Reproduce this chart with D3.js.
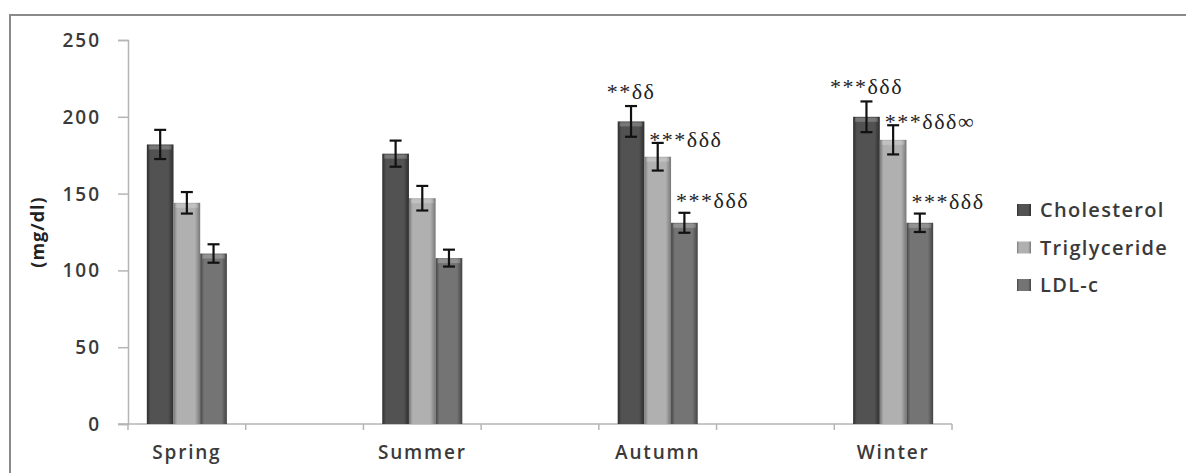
<!DOCTYPE html>
<html><head><meta charset="utf-8">
<script src="https://cdn.jsdelivr.net/npm/d3@7"></script>
<style>body{margin:0;background:#fff}svg{display:block}</style>
</head><body>
<svg id="c" width="1187" height="473"></svg>
<script>
// ---- data ----
const slots = ["Spring", "gap1", "Summer", "gap2", "Autumn", "gap3", "Winter"];
const categories = ["Spring", "Summer", "Autumn", "Winter"];
const series = ["Cholesterol", "Triglyceride", "LDL-c"];
const cholesterol = [182, 176, 197, 200];
const triglyceride = [144, 147, 174, 185];
const ldl = [111, 108, 131, 131];
const cholesterolErr = [9.5, 8.5, 10, 10];
const triglycerideErr = [7, 8, 9, 9.5];
const ldlErr = [6, 5.5, 6.5, 6];
const cholesterolMark = ["", "", "**δδ", "***δδδ"];
const triglycerideMark = ["", "", "***δδδ", "***δδδ∞"];
const ldlMark = ["", "", "***δδδ", "***δδδ"];
const yTicks = [0, 50, 100, 150, 200, 250];
const yTitle = "(mg/dl)";

const values = [cholesterol, triglyceride, ldl];
const errs = [cholesterolErr, triglycerideErr, ldlErr];
const marks = [cholesterolMark, triglycerideMark, ldlMark];
const colors = [
  {edge: "#2e2e2e", mid: "#525252"},
  {edge: "#777777", mid: "#b0b0b0"},
  {edge: "#434343", mid: "#747474"}
];

const svg = d3.select("#c");
const defs = svg.append("defs");
colors.forEach((c, i) => {
  const g = defs.append("linearGradient").attr("id", "g" + i).attr("x1", "0").attr("x2", "1").attr("y1", "0").attr("y2", "0");
  g.append("stop").attr("offset", "0%").attr("stop-color", c.edge);
  g.append("stop").attr("offset", "14%").attr("stop-color", c.mid);
  g.append("stop").attr("offset", "80%").attr("stop-color", c.mid);
  g.append("stop").attr("offset", "100%").attr("stop-color", c.edge);
});

// frame
svg.append("path").attr("d", "M10,480 L10,15 L1186,15")
  .attr("fill", "none").attr("stroke", "#8a8a8a").attr("stroke-width", 2);

const x = d3.scaleBand().domain(slots).range([128, 952]).padding(0);
const bw = x.bandwidth();
const x1 = d3.scaleBand().domain(series).range([bw * 0.16, bw * 0.84]).padding(0);
const y = d3.scaleLinear().domain([0, 250]).range([424, 40]);

const font = "'Open Sans', 'DejaVu Sans', sans-serif";
const txt = "#3a3a3a";

// y axis
const yAxis = svg.append("g").attr("transform", "translate(128,0)")
  .call(d3.axisLeft(y).tickValues(yTicks).tickSize(10).tickPadding(17));
yAxis.select(".domain").attr("stroke", "#b5b5b5").attr("stroke-width", 1.5);
yAxis.selectAll(".tick line").attr("stroke", "#b5b5b5").attr("stroke-width", 1.5);
yAxis.selectAll(".tick text").attr("font-family", font).attr("font-size", 19).attr("font-weight", 600)
  .attr("fill", txt).attr("letter-spacing", 2).attr("dy", "0.34em");

// x axis
const xAxis = svg.append("g").attr("transform", "translate(0,424)")
  .call(d3.axisBottom(x).tickSize(0).tickFormat(d => categories.includes(d) ? d : ""));
xAxis.select(".domain").attr("stroke", "#b5b5b5").attr("stroke-width", 1.5)
  .attr("d", "M118,0H952");
xAxis.selectAll(".tick text").attr("font-family", font).attr("font-size", 19).attr("font-weight", 600)
  .attr("fill", txt).attr("letter-spacing", 1.8).attr("dy", "0").attr("y", 35);
const boundaries = slots.map(s => x(s)).concat([952]);
svg.append("g").selectAll("line").data(boundaries).join("line")
  .attr("x1", d => d).attr("x2", d => d).attr("y1", 424).attr("y2", 430)
  .attr("stroke", "#b5b5b5").attr("stroke-width", 1.5);

// y title
svg.append("text").attr("transform", "translate(44,232) rotate(-90)")
  .attr("text-anchor", "middle").attr("font-family", font).attr("font-weight", "bold")
  .attr("font-size", 18).attr("letter-spacing", 1).attr("fill", "#222").text(yTitle);

// bars
const plot = svg.append("g");
series.forEach((s, si) => {
  categories.forEach((c, ci) => {
    const bx = x(c) + x1(s);
    const v = values[si][ci];
    const w = x1.bandwidth();
    plot.append("rect").attr("x", bx).attr("y", y(v)).attr("width", w).attr("height", y(0) - y(v))
      .attr("fill", `url(#g${si})`);
    plot.append("rect").attr("x", bx + 2).attr("y", y(v) + 1).attr("width", w - 4).attr("height", 4)
      .attr("fill", "#ffffff").attr("opacity", 0.22);
    // error bar
    const cx = bx + w / 2, e = errs[si][ci];
    const eb = plot.append("g").attr("stroke", "#111").attr("stroke-width", 2.2);
    eb.append("line").attr("x1", cx).attr("x2", cx).attr("y1", y(v + e)).attr("y2", y(v - e));
    eb.append("line").attr("x1", cx - 6).attr("x2", cx + 6).attr("y1", y(v + e)).attr("y2", y(v + e));
    eb.append("line").attr("x1", cx - 6).attr("x2", cx + 6).attr("y1", y(v - e)).attr("y2", y(v - e));
    // significance mark
    const m = marks[si][ci];
    if (m) {
      const t = plot.append("text").attr("font-family", "'Liberation Serif', 'DejaVu Serif', serif")
        .attr("font-size", 22).attr("letter-spacing", 1.5).attr("fill", "#222").text(m);
      if (si === 0) {
        t.attr("x", cx).attr("text-anchor", "middle").attr("y", y(v + e) - 7);
      } else {
        t.attr("x", bx + 5).attr("text-anchor", "start").attr("y", y(v + e) + (si === 1 ? 4 : -5));
      }
    }
  });
});

// legend
const leg = svg.append("g").attr("transform", "translate(1017,210)");
series.forEach((s, i) => {
  const g = leg.append("g").attr("transform", `translate(0,${i * 37.5})`);
  g.append("rect").attr("x", 0).attr("y", -6).attr("width", 14).attr("height", 12)
    .attr("fill", `url(#g${i})`);
  g.append("text").attr("x", 23).attr("y", 0).attr("dy", "0.35em")
    .attr("font-family", font).attr("font-size", 20).attr("font-weight", 600).attr("letter-spacing", 1.3)
    .attr("fill", txt).text(s);
});
</script>
</body></html>
